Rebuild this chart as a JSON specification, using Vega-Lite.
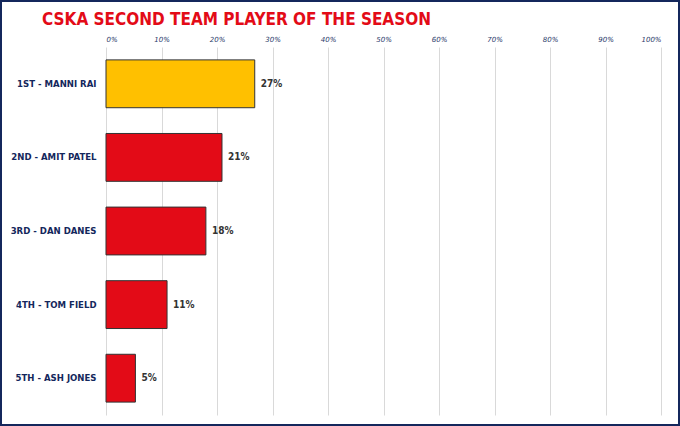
{
  "$schema": "https://vega.github.io/schema/vega-lite/v6.json",
  "width": 680,
  "height": 426,
  "padding": 0,
  "autosize": {"type": "none"},
  "background": "#ffffff",
  "title": {
    "text": "CSKA SECOND TEAM PLAYER OF THE SEASON",
    "anchor": "start",
    "frame": "group",
    "dx": 42,
    "dy": 29,
    "offset": 0,
    "color": "#e30b17",
    "font": "DejaVu Sans Condensed, Liberation Sans Narrow, DejaVu Sans",
    "fontSize": 17,
    "fontWeight": "bold"
  },
  "config": {
    "view": {"stroke": "#14275c", "strokeWidth": 4}
  },
  "data": {
    "values": [
      {"player": "1ST - MANNI RAI", "share": 0.268, "label": "27%", "winner": "yes"},
      {"player": "2ND - AMIT PATEL", "share": 0.209, "label": "21%", "winner": "no"},
      {"player": "3RD - DAN DANES", "share": 0.18, "label": "18%", "winner": "no"},
      {"player": "4TH - TOM FIELD", "share": 0.11, "label": "11%", "winner": "no"},
      {"player": "5TH - ASH JONES", "share": 0.053, "label": "5%", "winner": "no"}
    ]
  },
  "encoding": {
    "y": {
      "field": "player",
      "type": "nominal",
      "sort": null,
      "scale": {"range": [47, 415], "paddingInner": 0.35, "paddingOuter": 0.175},
      "axis": {
        "title": null,
        "orient": "left",
        "offset": -106,
        "domain": false,
        "ticks": false,
        "grid": false,
        "labelPadding": 10,
        "labelFont": "DejaVu Sans Condensed, Liberation Sans Narrow, DejaVu Sans",
        "labelFontSize": 9.5,
        "labelFontWeight": "bold",
        "labelColor": "#14275c"
      }
    },
    "x": {
      "field": "share",
      "type": "quantitative",
      "scale": {"domain": [0, 1], "range": [106, 661], "nice": false},
      "axis": {
        "title": null,
        "orient": "top",
        "offset": -47,
        "format": "%",
        "values": [0, 0.1, 0.2, 0.3, 0.4, 0.5, 0.6, 0.7, 0.8, 0.9, 1],
        "labelOverlap": false,
        "domain": false,
        "ticks": false,
        "grid": true,
        "gridColor": "#d9d9d9",
        "gridWidth": 1,
        "labelPadding": 5,
        "labelFont": "DejaVu Sans",
        "labelFontSize": 7,
        "labelFontStyle": "italic",
        "labelColor": "#2b3b6b"
      }
    }
  },
  "layer": [
    {
      "mark": {"type": "bar", "stroke": "#333333", "strokeWidth": 1},
      "encoding": {
        "color": {
          "field": "winner",
          "type": "nominal",
          "scale": {"domain": ["yes", "no"], "range": ["#ffc000", "#e30b17"]},
          "legend": null
        }
      }
    },
    {
      "mark": {
        "type": "text",
        "align": "left",
        "baseline": "middle",
        "dx": 6,
        "font": "DejaVu Sans Condensed, Liberation Sans Narrow, DejaVu Sans",
        "fontSize": 10,
        "fontWeight": "bold",
        "color": "#333333"
      },
      "encoding": {"text": {"field": "label"}}
    }
  ]
}
